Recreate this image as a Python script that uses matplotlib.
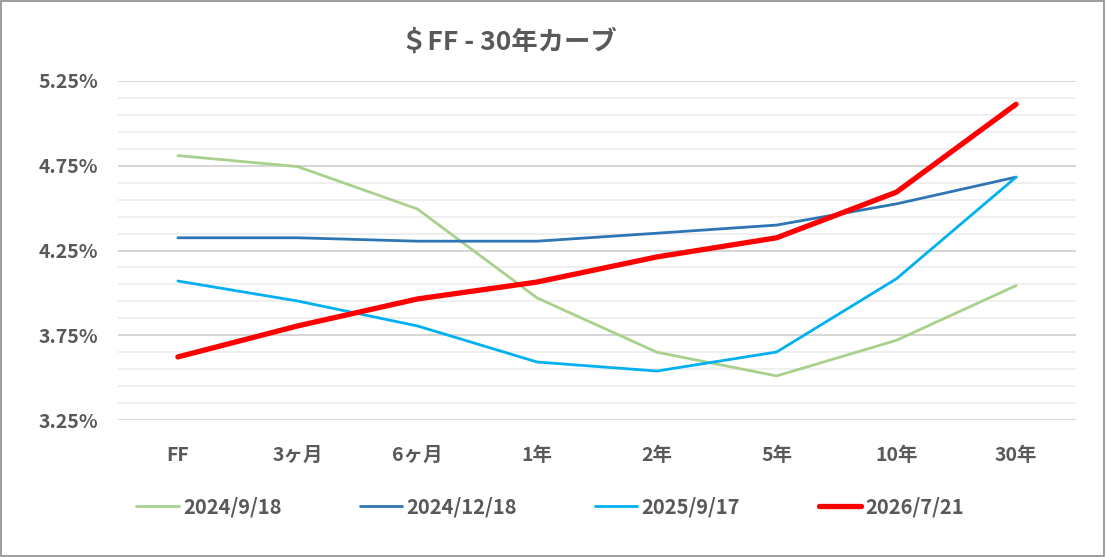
import matplotlib
matplotlib.use("Agg")
import matplotlib.pyplot as plt
from matplotlib.patches import Rectangle
from matplotlib.ticker import FixedLocator

plt.rcParams['font.family'] = ['Noto Sans CJK JP', 'DejaVu Sans']

tenors = ['FF', '3ヶ月', '6ヶ月', '1年', '2年', '5年', '10年', '30年']
labels = ['2024/9/18', '2024/12/18', '2025/9/17', '2026/7/21']
s_2024_09 = [4.81, 4.745, 4.495, 3.97, 3.65, 3.51, 3.72, 4.043]
s_2024_12 = [4.325, 4.325, 4.305, 4.305, 4.352, 4.40, 4.525, 4.683]
s_2025_09 = [4.07, 3.952, 3.805, 3.592, 3.539, 3.651, 4.083, 4.683]
s_2026_07 = [3.622, 3.805, 3.964, 4.064, 4.212, 4.325, 4.594, 5.113]

colors = ['#A9D18E', '#2E75B6', '#00B0F0', '#FF0000']
widths = [2.0, 2.0, 2.0, 3.8]
txt = '#595959'

fig = plt.figure(figsize=(11.06, 5.57), dpi=100)
fig.add_artist(Rectangle((0.001, 0.002), 0.997, 0.996, transform=fig.transFigure,
                         fill=False, edgecolor='#8c8c8c', linewidth=1.2))
ax = fig.add_axes([118 / 1106, 1 - 420 / 557, 958 / 1106, 339 / 557])

x = range(len(tenors))
for ys, lab, c, w in zip([s_2024_09, s_2024_12, s_2025_09, s_2026_07], labels, colors, widths):
    ax.plot(x, ys, color=c, lw=w, label=lab, solid_capstyle='round', zorder=3)

major = [3.25, 3.75, 4.25, 4.75, 5.25]
ax.set_xlim(-0.5, 7.5)
ax.set_ylim(3.25, 5.25)
ax.yaxis.set_major_locator(FixedLocator(major))
ax.set_yticks([3.25 + 0.1 * i for i in range(21)], minor=True)
ax.grid(which='minor', axis='y', color='#EEEEEE', lw=1.3, zorder=0)
ax.grid(which='major', axis='y', color='#D3D3D3', lw=1.3, zorder=1)
ax.set_yticklabels(['%.2f%%' % v for v in major])
ax.set_xticks(list(x))
ax.set_xticklabels(tenors)
ax.tick_params(axis='both', which='both', length=0, colors=txt, labelsize=14)
ax.tick_params(axis='y', pad=14)
ax.tick_params(axis='x', pad=19)
for t in ax.get_xticklabels() + ax.get_yticklabels():
    t.set_fontweight('bold')
for sp in ax.spines.values():
    sp.set_visible(False)

fig.text(509 / 1106, 1 - 42 / 557, '＄FF - 30年カーブ', ha='center', va='center',
         fontsize=19, fontweight='bold', color=txt)

fig.legend(loc='center', bbox_to_anchor=(550 / 1106, 1 - 507 / 557), ncol=4, frameon=False,
           handlelength=2.1, handletextpad=0.2, columnspacing=3.9,
           prop={'size': 14.5, 'weight': 'bold'}, labelcolor=txt)

fig.savefig('out.png', dpi=100)
